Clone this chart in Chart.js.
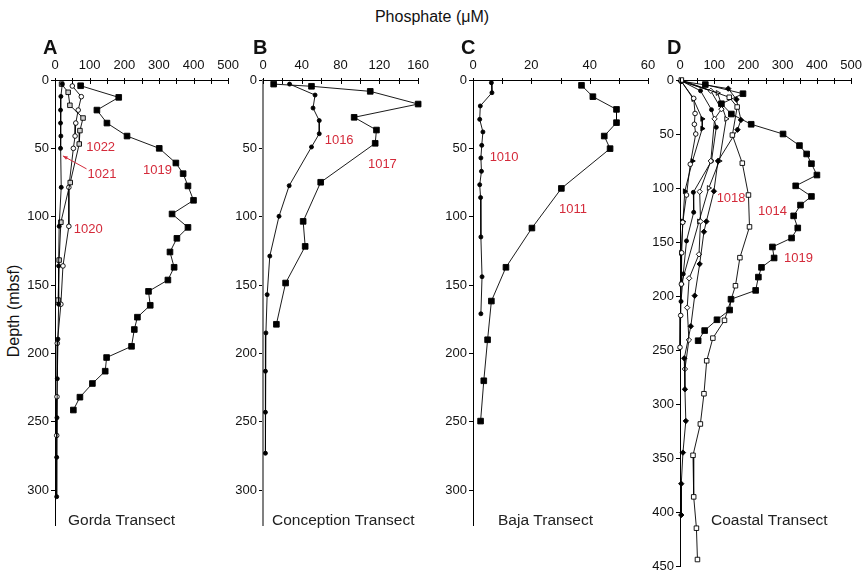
<!DOCTYPE html>
<html><head><meta charset="utf-8">
<script src="https://cdn.jsdelivr.net/npm/chart.js@4"></script>
<style>
html,body{margin:0;padding:0;background:#fff;}
#wrap{position:relative;width:864px;height:573px;overflow:hidden;font-family:'Liberation Sans',Arial,sans-serif;background:#fff;}
canvas{position:absolute;}
.t{position:absolute;color:#111;white-space:nowrap;}
</style></head><body>
<div id="wrap">
<div class="t" style="left:0;width:864px;top:8px;text-align:center;font-size:16px;">Phosphate (μM)</div>
<div class="t" style="left:14px;top:311px;font-size:16px;transform:translate(-50%,-50%) rotate(-90deg);">Depth (mbsf)</div>
<canvas id="cA"></canvas>
<canvas id="cB"></canvas>
<canvas id="cC"></canvas>
<canvas id="cD"></canvas>
</div>
<script>
// ---------- DATA (depth in mbsf, phosphate in µM) ----------
// Panel A – Gorda Transect
const A1019_depth = [4.2, 12.7, 22, 31.5, 41, 50, 60.7, 68.5, 77.5, 88, 98, 107.8, 115.8, 125.8, 137, 146.3, 154.6, 164.8, 173.5, 182.5, 194.8, 203, 213, 222, 232, 241.4];
const A1019_po4   = [74, 184, 121, 150, 208, 301, 349, 370, 384, 400, 338, 384, 352, 332, 344, 326, 270, 275, 238, 229, 221, 149, 145, 108, 72, 53];
const A1022_depth = [3, 9, 18.5, 27.8, 37, 46.8, 75, 104, 131.7, 161];
const A1022_po4   = [19, 38, 43, 81, 72, 70, 44, 17, 12, 9];
const A1020_depth = [4.4, 12.2, 22, 31.5, 41, 50, 78.5, 107, 136, 164, 192.6, 231.7, 260];
const A1020_po4   = [50, 76, 67, 60, 58, 53, 40, 40, 23, 17, 6.6, 5.7, 4.9];
const A1021_depth = [3, 12, 22, 31.5, 41, 50, 78.5, 107, 136, 164, 189.5, 218.5, 247, 276, 304.8];
const A1021_po4   = [21, 17, 16, 16, 17, 16, 18, 12, 10.5, 10.5, 8.6, 6.6, 5.7, 4.9, 4.9];
// Panel B – Conception Transect
const B1016_depth = [3, 11, 20.5, 29.7, 39.3, 49, 77.3, 99.7, 128.8, 157, 185, 213, 243, 273];
const B1016_po4   = [27.4, 53.7, 51.6, 58, 58, 50, 27, 16.5, 7, 4.3, 3, 2.5, 2.5, 2.5];
const B1017_depth = [3, 4.6, 8.3, 17.6, 27.3, 36.6, 46.3, 74.8, 103.4, 121.7, 148.5, 178.7];
const B1017_po4   = [11, 50, 110.6, 160, 94, 117, 115.7, 59.5, 41.4, 43.5, 23.3, 13.8];
// Panel C – Baja Transect
const C1010_depth = [2, 9.3, 19, 28.8, 38, 47.8, 57, 66.8, 76.6, 86, 114.8, 143.9, 171];
const C1010_po4   = [6.3, 6.5, 2.5, 2.3, 3.4, 3, 2.7, 2.9, 2.3, 2.6, 2.7, 3.1, 2.7];
const C1011_depth = [3.9, 12.2, 21.5, 31.2, 41, 50.2, 79.3, 108.3, 137, 161.7, 190, 220, 249.5];
const C1011_po4   = [37.2, 41.1, 49.2, 49.2, 45, 47, 30.3, 20.2, 11.3, 6.3, 5, 3.7, 2.6];
// Panel D – Coastal Transect
const D1014_depth = [0, 16, 25, 51, 77, 106.5, 136, 164.5, 190.5, 222.5, 239, 260, 290.5, 318.5, 347.5, 386, 415, 444];
const D1014_po4   = [4, 144, 167, 153, 182, 200, 203, 175, 162, 130, 96, 78, 70, 59.5, 38, 40, 48, 51];
const D1018_depth = [1, 8, 18, 37, 46, 75, 103, 131, 140.5, 170.4, 199.7, 228, 257.7, 286.4, 315.7, 345, 373.8, 402.8];
const D1018_po4   = [3, 141, 165, 178, 168, 111, 99, 77, 70, 57.5, 43, 31.6, 12.4, 14.4, 17, 8.6, 3.7, 3.7];
const Dod_depth   = [1, 10, 27, 36, 75, 103.4, 131, 161.4, 183.6, 210.8, 240.7, 267.6];
const Dod_po4     = [2, 90, 121, 101, 90, 57.5, 60, 55.5, 26.7, 21, 26, 14.4];
const Doc_depth   = [1, 17, 31, 41, 50, 78, 106.5, 131.8, 160, 189, 218, 247.5];
const Doc_po4     = [3, 40, 44, 42, 46, 30, 19, 8, 5, 4, 2, 0];
const Dft_depth   = [1, 17.6, 36, 45, 75, 103, 131, 160];
const Dft_po4     = [4, 39, 65, 65, 36.5, 14, 8.6, 3];
const Dot_depth   = [1, 12, 36, 75, 100, 131, 189];
const Dot_po4     = [5, 110, 135, 115, 84, 55.5, 4];
const Dfc_depth   = [1, 10, 27.5, 43.8, 75, 104, 122.5, 149, 179.6, 205];
const Dfc_po4     = [5, 60, 92, 106, 92, 39, 40, 19, 9.5, 3];

// ---------- STYLES ----------
const RED = '#d42a3a';
const ST = {
  fsq: {pointStyle:'rect', pointRadius:4, pointBackgroundColor:'#000'},
  osqG:{pointStyle:'rect', pointRadius:3.2, pointBackgroundColor:'#cfcfcf'},
  osq: {pointStyle:'rect', pointRadius:3.2, pointBackgroundColor:'#fff'},
  fci: {pointStyle:'circle', pointRadius:2, pointBackgroundColor:'#000'},
  oci: {pointStyle:'circle', pointRadius:2.3, pointBackgroundColor:'#fff'},
  fdi: {pointStyle:'rectRot', pointRadius:2.7, pointBackgroundColor:'#000'},
  odi: {pointStyle:'rectRot', pointRadius:2.7, pointBackgroundColor:'#fff'},
  ftr: {pointStyle:'triangle', pointRotation:90, pointRadius:2.8, pointBackgroundColor:'#000'},
  otr: {pointStyle:'triangle', pointRotation:90, pointRadius:2.8, pointBackgroundColor:'#fff'}
};
function ds(depth, po4, style) {
  return Object.assign({
    data: depth.map((d, i) => ({x: po4[i], y: d})),
    showLine: true, borderColor: '#000', borderWidth: 0.9,
    pointBorderColor: '#000', pointBorderWidth: 0.9, clip: false, tension: 0
  }, style);
}

function makeDeco(P) {
  return {
    id: 'deco' + P.letter,
    afterDraw(chart) {
      const ctx = chart.ctx, xs = chart.scales.x, ys = chart.scales.y, ca = chart.chartArea;
      ctx.save();
      ctx.strokeStyle = '#000'; ctx.lineWidth = 1;
      ctx.beginPath();
      xs.ticks.forEach(t => {
        const px = Math.round(xs.getPixelForValue(t.value)) + 0.5;
        ctx.moveTo(px, ca.top - 2); ctx.lineTo(px, ca.top + 4);
      });
      ctx.stroke();
      ctx.fillStyle = '#111'; ctx.textBaseline = 'middle'; ctx.textAlign = 'left';
      ctx.font = 'bold 20px "Liberation Sans", Arial, sans-serif';
      ctx.fillText(P.letter, ca.left + P.letterDx, ca.top - 31.5);
      ctx.font = '15.5px "Liberation Sans", Arial, sans-serif';
      ctx.fillStyle = '#222';
      ctx.fillText(P.footer, ca.left + P.footerDx, ca.top + 441);
      ctx.fillStyle = RED; ctx.font = '13px "Liberation Sans", Arial, sans-serif';
      P.labels.forEach(l => ctx.fillText(l.text, xs.getPixelForValue(l.v), ys.getPixelForValue(l.d)));
      (P.arrows || []).forEach(a => {
        const x1 = xs.getPixelForValue(a.v1), y1 = ys.getPixelForValue(a.d1);
        const x2 = xs.getPixelForValue(a.v2), y2 = ys.getPixelForValue(a.d2);
        ctx.strokeStyle = RED; ctx.fillStyle = RED; ctx.lineWidth = 1;
        ctx.beginPath(); ctx.moveTo(x1, y1); ctx.lineTo(x2, y2); ctx.stroke();
        const ang = Math.atan2(y2 - y1, x2 - x1), L = 5;
        ctx.beginPath(); ctx.moveTo(x2, y2);
        ctx.lineTo(x2 - L * Math.cos(ang - 0.4), y2 - L * Math.sin(ang - 0.4));
        ctx.lineTo(x2 - L * Math.cos(ang + 0.4), y2 - L * Math.sin(ang + 0.4));
        ctx.closePath(); ctx.fill();
      });
      ctx.restore();
    }
  };
}

Chart.defaults.font.family = '"Liberation Sans", Arial, sans-serif';
Chart.defaults.font.size = 13;
Chart.defaults.color = '#111';

function makePanel(id, P) {
  const PADL = 45, PADT = 60, PADR = 16, PADB = 10;
  const cv = document.getElementById(id);
  const w = P.right - P.left + PADL + PADR, h = P.bottom - P.top + PADT + PADB;
  cv.width = w; cv.height = h;
  cv.style.left = (P.left - PADL) + 'px'; cv.style.top = (P.top - PADT) + 'px';
  cv.style.width = w + 'px'; cv.style.height = h + 'px';
  new Chart(cv, {
    type: 'scatter',
    data: {datasets: P.datasets},
    options: {
      responsive: false, animation: false, devicePixelRatio: 1,
      layout: {padding: {left: 0, top: 0, right: PADR, bottom: PADB}},
      plugins: {legend: {display: false}, tooltip: {enabled: false}},
      scales: {
        x: {
          type: 'linear', position: 'top', min: 0, max: P.xmax,
          afterFit: s => { s.height = PADT; },
          grid: {display: true, drawOnChartArea: false, drawTicks: false},
          border: {display: true, color: '#000', width: 1},
          ticks: {stepSize: P.xstep, autoSkip: false, maxRotation: 0, padding: 7, color: '#111',
                  callback: v => (Math.round(v) % P.xlab === 0 ? String(v) : '')}
        },
        y: {
          type: 'linear', reverse: true, min: 0, max: P.ymax,
          afterFit: s => { s.width = PADL; },
          afterBuildTicks: s => { s.ticks = s.ticks.filter(t => Math.abs(t.value % 50) < 1e-6); },
          grid: {display: true, drawOnChartArea: false, drawTicks: true, tickLength: 4, tickColor: '#000'},
          border: {display: true, color: P.ycolor || '#000', width: P.ywidth || 1},
          ticks: {stepSize: 50, padding: 2, color: '#111', autoSkip: false}
        }
      }
    },
    plugins: [makeDeco(P)]
  });
}

makePanel('cA', {
  letter: 'A', letterDx: -12, footer: 'Gorda Transect', footerDx: 13,
  left: 55, right: 230, top: 80, bottom: 525, xmax: 500, xstep: 50, xlab: 100, ymax: 325.5,
  datasets: [
    ds(A1019_depth, A1019_po4, ST.fsq),
    ds(A1021_depth, A1021_po4, ST.fci),
    ds(A1022_depth, A1022_po4, ST.osqG),
    ds(A1020_depth, A1020_po4, ST.oci)
  ],
  labels: [{text:'1022', v:90, d:49}, {text:'1021', v:94, d:69}, {text:'1019', v:254, d:66}, {text:'1020', v:54, d:109}],
  arrows: [{v1:91, d1:65, v2:23, d2:55.5}]
});
makePanel('cB', {
  letter: 'B', letterDx: -10, footer: 'Conception Transect', footerDx: 9,
  left: 263, right: 420, top: 80, bottom: 525, xmax: 160, xstep: 20, xlab: 40, ymax: 325.5,
  ycolor: '#808080', ywidth: 2,
  datasets: [
    ds(B1016_depth, B1016_po4, ST.fci),
    ds(B1017_depth, B1017_po4, ST.fsq)
  ],
  labels: [{text:'1016', v:63.6, d:43.9}, {text:'1017', v:108.2, d:61.4}]
});
makePanel('cC', {
  letter: 'C', letterDx: -12, footer: 'Baja Transect', footerDx: 25,
  left: 473, right: 648, top: 80, bottom: 525, xmax: 60, xstep: 10, xlab: 20, ymax: 325.5,
  datasets: [
    ds(C1010_depth, C1010_po4, ST.fci),
    ds(C1011_depth, C1011_po4, ST.fsq)
  ],
  labels: [{text:'1010', v:5.7, d:56.8}, {text:'1011', v:29.5, d:94.6}]
});
makePanel('cD', {
  letter: 'D', letterDx: -13, footer: 'Coastal Transect', footerDx: 31,
  left: 680, right: 853, top: 80, bottom: 566, xmax: 500, xstep: 50, xlab: 100, ymax: 450,
  datasets: [
    ds(A1019_depth, A1019_po4, ST.fsq),
    ds(D1014_depth, D1014_po4, ST.osq),
    ds(D1018_depth, D1018_po4, ST.fdi),
    ds(Dod_depth, Dod_po4, ST.odi),
    ds(Doc_depth, Doc_po4, ST.oci),
    ds(Dft_depth, Dft_po4, ST.ftr),
    ds(Dot_depth, Dot_po4, ST.otr),
    ds(Dfc_depth, Dfc_po4, ST.fci)
  ],
  labels: [{text:'1018', v:107, d:110}, {text:'1014', v:228, d:122}, {text:'1019', v:304, d:165}]
});
</script>
</body></html>
